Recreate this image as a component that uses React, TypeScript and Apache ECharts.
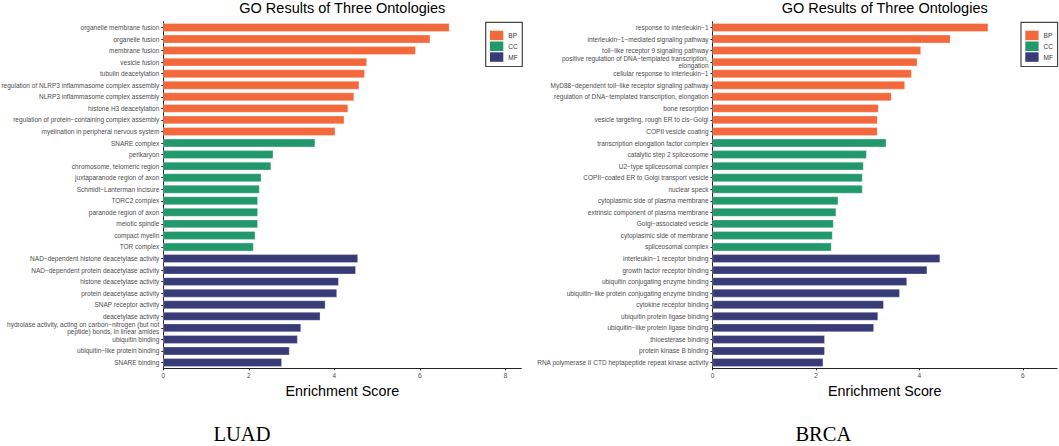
import React, { useEffect, useRef } from "react";
import * as echarts from "echarts";

const GROUPS = ["BP", "CC", "MF"];
const COLORS: Record<string, string> = { BP: "#F4693B", CC: "#22996B", MF: "#383B77" };

const luadCategories = [
  "organelle membrane fusion",
  "organelle fusion",
  "membrane fusion",
  "vesicle fusion",
  "tubulin deacetylation",
  "regulation of NLRP3 inflammasome complex assembly",
  "NLRP3 inflammasome complex assembly",
  "histone H3 deacetylation",
  "regulation of protein−containing complex assembly",
  "myelination in peripheral nervous system",
  "SNARE complex",
  "perikaryon",
  "chromosome, telomeric region",
  "juxtaparanode region of axon",
  "Schmidt−Lanterman incisure",
  "TORC2 complex",
  "paranode region of axon",
  "meiotic spindle",
  "compact myelin",
  "TOR complex",
  "NAD−dependent histone deacetylase activity",
  "NAD−dependent protein deacetylase activity",
  "histone deacetylase activity",
  "protein deacetylase activity",
  "SNAP receptor activity",
  "deacetylase activity",
  "hydrolase activity, acting on carbon−nitrogen (but not\npeptide) bonds, in linear amides",
  "ubiquitin binding",
  "ubiquitin−like protein binding",
  "SNARE binding",
];
const luadValues = [
  6.69, 6.24, 5.9, 4.76, 4.71, 4.58, 4.46, 4.32, 4.23, 4.02,
  3.55, 2.57, 2.52, 2.29, 2.25, 2.21, 2.21, 2.21, 2.15, 2.11,
  4.55, 4.5, 4.1, 4.06, 3.79, 3.67, 3.22, 3.14, 2.95, 2.77,
];
const luadGroups = [
  "BP", "BP", "BP", "BP", "BP", "BP", "BP", "BP", "BP", "BP",
  "CC", "CC", "CC", "CC", "CC", "CC", "CC", "CC", "CC", "CC",
  "MF", "MF", "MF", "MF", "MF", "MF", "MF", "MF", "MF", "MF",
];

const brcaCategories = [
  "response to interleukin−1",
  "interleukin−1−mediated signaling pathway",
  "toll−like receptor 9 signaling pathway",
  "positive regulation of DNA−templated transcription,\nelongation",
  "cellular response to interleukin−1",
  "MyD88−dependent toll−like receptor signaling pathway",
  "regulation of DNA−templated transcription, elongation",
  "bone resorption",
  "vesicle targeting, rough ER to cis−Golgi",
  "COPII vesicle coating",
  "transcription elongation factor complex",
  "catalytic step 2 spliceosome",
  "U2−type spliceosomal complex",
  "COPII−coated ER to Golgi transport vesicle",
  "nuclear speck",
  "cytoplasmic side of plasma membrane",
  "extrinsic component of plasma membrane",
  "Golgi−associated vesicle",
  "cytoplasmic side of membrane",
  "spliceosomal complex",
  "interleukin−1 receptor binding",
  "growth factor receptor binding",
  "ubiquitin conjugating enzyme binding",
  "ubiquitin−like protein conjugating enzyme binding",
  "cytokine receptor binding",
  "ubiquitin protein ligase binding",
  "ubiquitin−like protein ligase binding",
  "thioesterase binding",
  "protein kinase B binding",
  "RNA polymerase II CTD heptapeptide repeat kinase activity",
];
const brcaValues = [
  5.33, 4.6, 4.03, 3.96, 3.85, 3.72, 3.46, 3.21, 3.19, 3.19,
  3.36, 2.98, 2.92, 2.9, 2.9, 2.43, 2.39, 2.34, 2.32, 2.3,
  4.4, 4.15, 3.76, 3.62, 3.31, 3.2, 3.12, 2.17, 2.17, 2.14,
];
const brcaGroups = luadGroups.slice();

const luadTicks = [0, 2, 4, 6, 8];
const brcaTicks = [0, 2, 4, 6];

const titleText = "GO Results of Three Ontologies";
const axisNameText = "Enrichment Score";
const panelNames = ["LUAD", "BRCA"];

const FONT = "'Liberation Sans', Arial, Helvetica, sans-serif";
const SERIF = "'Liberation Serif', 'Times New Roman', serif";

function makeSeries(groups: string[], values: number[], idx: number) {
  return GROUPS.map((g) => ({
    type: "bar",
    name: g,
    xAxisIndex: idx,
    yAxisIndex: idx,
    stack: "s" + idx,
    barCategoryGap: "27%",
    itemStyle: { color: COLORS[g], borderColor: "rgba(255,255,255,0.6)", borderWidth: 0.5 },
    data: values.map((v, i) => (groups[i] === g ? v : "-")),
  }));
}

function yAxis(cats: string[], idx: number) {
  return {
    type: "category",
    gridIndex: idx,
    inverse: true,
    data: cats,
    axisLine: { show: true, lineStyle: { color: "#222", width: 1 } },
    axisTick: { show: true, length: 2, alignWithLabel: true, lineStyle: { color: "#222", width: 1 } },
    axisLabel: { interval: 0, fontSize: 6.5, lineHeight: 6.6, color: "#4d4d4d", margin: 4, fontFamily: FONT },
    splitLine: { show: false },
  };
}

function xAxis(max: number, ticks: number[], idx: number) {
  return {
    type: "value",
    gridIndex: idx,
    min: 0,
    max,
    axisLine: { show: true, lineStyle: { color: "#222", width: 1 } },
    axisTick: { show: true, length: 2, customValues: ticks, lineStyle: { color: "#222", width: 1 } },
    axisLabel: { customValues: ticks, fontSize: 6.5, color: "#4d4d4d", margin: 3.5, fontFamily: FONT },
    splitLine: { show: false },
    name: axisNameText,
    nameLocation: "middle",
    nameGap: 11.5,
    nameTextStyle: { fontSize: 14.3, color: "#000", fontFamily: FONT },
  };
}

function legend(left: number) {
  return {
    orient: "vertical",
    left,
    top: 22.3,
    data: GROUPS,
    icon: "rect",
    itemWidth: 13.3,
    itemHeight: 9.5,
    itemGap: 1.3,
    padding: [8.4, 4.6, 4.7, 4.3],
    borderColor: "#444",
    borderWidth: 1.2,
    selectedMode: false,
    itemStyle: { borderWidth: 0 },
    textStyle: { fontSize: 6.5, color: "#333", fontFamily: FONT },
  };
}

export default function App() {
  const ref = useRef<HTMLDivElement>(null);
  useEffect(() => {
    if (!ref.current) return;
    const chart = echarts.init(ref.current, null, { renderer: "svg" });
    chart.setOption({
      animation: false,
      backgroundColor: "#fff",
      grid: [
        { left: 163.3, top: 21.7, width: 358, height: 346.6, outerBoundsMode: "none" },
        { left: 712.5, top: 21.7, width: 344.5, height: 346.6, outerBoundsMode: "none" },
      ],
      xAxis: [xAxis(8.37, luadTicks, 0), xAxis(6.66, brcaTicks, 1)],
      yAxis: [yAxis(luadCategories, 0), yAxis(brcaCategories, 1)],
      legend: [legend(485.7), legend(1021)],
      series: [...makeSeries(luadGroups, luadValues, 0), ...makeSeries(brcaGroups, brcaValues, 1)],
      graphic: [
        { type: "text", x: 342.3, y: 0.5, style: { text: titleText, fontSize: 14.5, fontFamily: FONT, fill: "#000", align: "center", verticalAlign: "top" } },
        { type: "text", x: 884.7, y: 0.5, style: { text: titleText, fontSize: 14.5, fontFamily: FONT, fill: "#000", align: "center", verticalAlign: "top" } },
        { type: "text", x: 242, y: 434, style: { text: panelNames[0], fontSize: 20.5, lineHeight: 17, fontFamily: SERIF, fill: "#000", align: "center", verticalAlign: "middle" } },
        { type: "text", x: 823.3, y: 434, style: { text: panelNames[1], fontSize: 20.5, lineHeight: 17, fontFamily: SERIF, fill: "#000", align: "center", verticalAlign: "middle" } },
      ],
    });
    return () => chart.dispose();
  }, []);
  return <div ref={ref} style={{ position: "fixed", left: 0, top: 0, width: 1059, height: 446 }} />;
}
